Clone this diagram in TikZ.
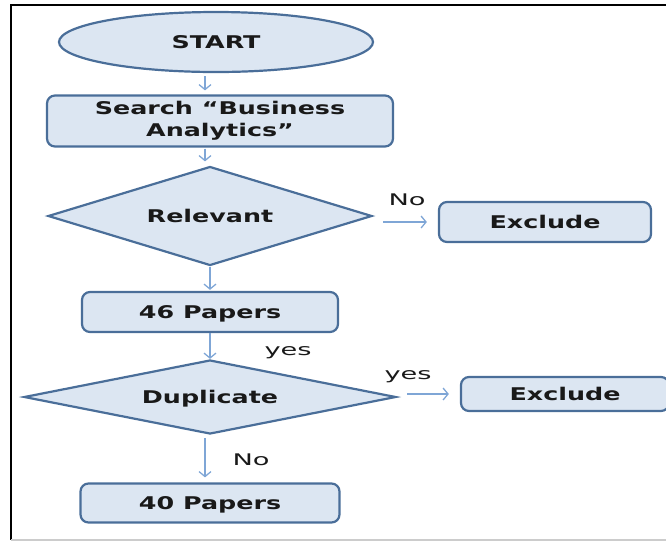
\documentclass[tikz,border=0pt]{standalone}
\usepackage{fontspec}
\setmainfont{DejaVu Sans}
\newfontfamily\boxfont[FakeStretch=1.45]{DejaVu Sans}
\newfontfamily\labelfont[FakeStretch=1.7]{DejaVu Sans}
\usetikzlibrary{shapes.geometric,arrows.meta}

\definecolor{boxfill}{HTML}{DCE6F2}
\definecolor{boxline}{HTML}{4A6E99}
\definecolor{flowblue}{HTML}{7FA6D6}

\tikzset{
  stepbox/.style={draw=boxline, fill=boxfill, line width=2.2pt, rounded corners=8pt,
    text=black!90, inner sep=0pt, font={\boxfont\bfseries\fontsize{17.5}{22}\selectfont}},
  oneline/.style={text height=12.7pt, text depth=0pt},
  startnode/.style={stepbox, oneline, ellipse, rounded corners=0pt},
  testnode/.style={stepbox, oneline, diamond, rounded corners=0pt},
  lbl/.style={text=black!90, inner sep=0pt, font={\labelfont\fontsize{16}{19}\selectfont}},
  flow/.style={->, draw=flowblue, line width=1.3pt}
}

\begin{document}
\begin{tikzpicture}[x=1pt,y=-1pt,>={Straight Barb[length=5pt,width=12pt]}]
	\clip (0,0) rectangle (666,542);
	\draw[line width=2pt] (666,5) -- (11,5) -- (11,540);
	\draw[black!20, line width=1.5pt] (11,540) -- (666,540);

            \node[startnode, minimum width=314pt, minimum height=60pt] (start) at (216,42) {START};
            \node[stepbox, minimum width=346pt, minimum height=51pt, align=center] (search) at (220,121) {Search “Business\\Analytics”};
            \node[testnode, aspect=3.27, minimum width=324pt, minimum height=99pt] (relevant) at (210,216) {Relevant};
            \node[stepbox, oneline, minimum width=212pt, minimum height=40pt] (exclA) at (545,222) {Exclude};
            \node[stepbox, oneline, minimum width=256pt, minimum height=40pt] (papersA) at (210,312) {46 Papers};
            \node[testnode, aspect=5.03, minimum width=372pt, minimum height=74pt] (duplicate) at (210,397) {Duplicate};
            \node[stepbox, oneline, minimum width=208pt, minimum height=34pt] (exclB) at (565,394) {Exclude};
            \node[stepbox, oneline, minimum width=259pt, minimum height=39pt] (papersB) at (210,503) {40 Papers};

            \draw[flow, shorten <=3pt, shorten >=4pt] ([xshift=-11pt]start.south) -- ([xshift=-15pt]search.north);
            \draw[flow, shorten <=1pt, shorten >=4pt] ([xshift=-15pt]search.south) -- ([xshift=-5pt]relevant.north);
            \draw[flow, shorten <=10pt, shorten >=11pt] ([yshift=-6pt]relevant.east) -- (exclA.west);
            \draw[flow, shorten >=1pt] (relevant.south) -- (papersA.north);
            \draw[flow] (papersA.south) -- (duplicate.north);
            \draw[flow, shorten <=10pt, shorten >=11pt] ([yshift=3pt]duplicate.east) -- (exclB.west);
            \draw[flow, shorten <=3pt, shorten >=5pt] ([xshift=-5pt]duplicate.south) -- ([xshift=-5pt]papersB.north);

            \node[lbl] (noA) at (407,200) {No};
            \node[lbl] (yesA) at (288,353) {yes};
            \node[lbl] (yesB) at (408,377) {yes};
            \node[lbl] (noB) at (251,460) {No};

        \end{tikzpicture}
\end{document}
